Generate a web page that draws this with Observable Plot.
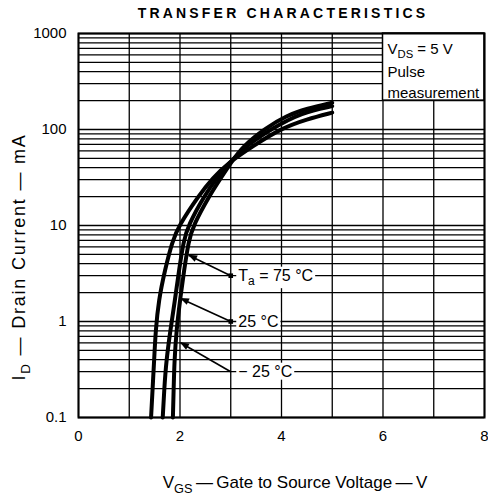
<!DOCTYPE html>
<html><head><meta charset="utf-8">
<script src="https://cdn.jsdelivr.net/npm/d3@7"></script>
<script src="https://cdn.jsdelivr.net/npm/@observablehq/plot@0.6"></script>
<style>
body{margin:0;background:#fff;}
#chart{width:488px;height:497px;}
</style></head><body><div id="chart"></div>
<script>
const FONT = '"Liberation Sans", Arial, Helvetica, sans-serif';

// Curves: VGS (V) and ID (mA)
const vgsT75 = [1.43, 1.46, 1.49, 1.52, 1.58, 1.70, 1.85, 1.98, 2.37, 2.64, 2.95, 3.45, 4.0, 4.5, 5.0];
const idT75  = [0.1, 0.2, 0.39, 0.81, 1.66, 3.4, 6.9, 10, 20.5, 31, 45, 68, 103, 128, 150];
const vgsT25 = [1.66, 1.69, 1.73, 1.81, 1.9, 1.98, 2.07, 2.16, 2.48, 2.72, 2.97, 3.31, 3.82, 4.4, 5.0];
const idT25  = [0.1, 0.2, 0.39, 0.81, 1.66, 3.4, 6.9, 10, 20.5, 31, 45, 68, 103, 150, 175];
const vgsTm25 = [1.86, 1.875, 1.89, 1.93, 2.0, 2.08, 2.17, 2.26, 2.58, 2.8, 3.0, 3.25, 3.68, 4.1, 4.5, 5.0];
const idTm25  = [0.1, 0.2, 0.39, 0.81, 1.66, 3.4, 6.9, 10, 20.5, 31, 45, 68, 103, 140, 165, 190];

// Axes
const xTicks = [0, 2, 4, 6, 8];
const xTickLabels = ["0", "2", "4", "6", "8"];
const yTicks = [0.1, 1, 10, 100, 1000];
const yTickLabels = ["0.1", "1", "10", "100", "1000"];
const xGrid = [0, 1, 2, 3, 4, 5, 6, 7, 8];
const decades = [0.1, 1, 10, 100];
const mantissas = [1, 2, 3, 4, 5, 6, 7, 8, 9];

// Annotations
const annLabels = ["75", "25", "-25"];
const annX = [3, 3, 3];
const annY = [3, 1, 0.3];
const annTipX = [2.17, 2.01, 2.01];
const annTipY = [4.9, 1.74, 0.6];
const annMarker = [true, true, false];

// Condition box (VGS 6–8, ID 200–1000)
const boxX = [6, 8];
const boxY = [200, 1000];

const curveRows = [
  ...vgsT75.map((v, i) => ({t: "75", vgs: v, id: idT75[i]})),
  ...vgsT25.map((v, i) => ({t: "25", vgs: v, id: idT25[i]})),
  ...vgsTm25.map((v, i) => ({t: "-25", vgs: v, id: idTm25[i]}))
];
const yGrid = decades.flatMap(d => mantissas.map(m => +(d * m).toPrecision(3))).concat([1000]);
const annRows = annLabels.map((l, i) => ({l, x: annX[i], y: annY[i], tx: annTipX[i], ty: annTipY[i], m: annMarker[i]}));

const plot = Plot.plot({
  width: 488, height: 497,
  marginTop: 33, marginBottom: 80, marginLeft: 78, marginRight: 4,
  style: {fontFamily: FONT, fontSize: "15px", color: "#000", background: "#fff"},
  x: {domain: [0, 8]},
  y: {type: "log", domain: [0.1, 1000]},
  marks: [
    Plot.ruleX(xGrid, {stroke: "#000", strokeWidth: 1.3}),
    Plot.ruleY(yGrid, {stroke: "#000", strokeWidth: 1.3}),
    Plot.line(curveRows, {x: "vgs", y: "id", z: "t", stroke: "#000", strokeWidth: 4, curve: "basis"}),
    Plot.rect([{x1: boxX[0], x2: boxX[1], y1: boxY[0], y2: boxY[1]}], {x1: "x1", x2: "x2", y1: "y1", y2: "y2", fill: "#fff", stroke: "#000", strokeWidth: 1.5}),
    Plot.link(annRows, {x1: "x", y1: "y", x2: "tx", y2: "ty", stroke: "#000", strokeWidth: 1.6}),
    Plot.dot(annRows.filter(d => d.m), {x: "x", y: "y", symbol: "square", r: 2.6, fill: "#000"}),
    Plot.axisX({ticks: xTicks, tickFormat: d => xTickLabels[xTicks.indexOf(d)], tickSize: 0, tickPadding: 13, label: null, fontSize: 15}),
    Plot.axisY({ticks: yTicks, tickFormat: d => yTickLabels[yTicks.indexOf(d)], tickSize: 0, tickPadding: 12, label: null, fontSize: 15}),
    Plot.frame({stroke: "#000", strokeWidth: 2})
  ]
});
document.getElementById("chart").append(plot);

const svg = d3.select(plot);
const xs = plot.scale("x"), ys = plot.scale("y");

function rich(g, x, y, parts, size, anchor, extra) {
  const t = g.append("text").attr("x", x).attr("y", y)
    .attr("font-family", FONT).attr("font-size", size)
    .attr("text-anchor", anchor || "start").attr("fill", "#000");
  if (extra) extra(t);
  let shift = 0;
  parts.forEach(([s, sub]) => {
    const ts = t.append("tspan").text(s);
    const target = sub ? size * 0.28 : 0;
    if (target !== shift) { ts.attr("dy", target - shift); shift = target; }
    if (sub) ts.attr("font-size", size * 0.75);
  });
  return t;
}

const g = svg.append("g");

// Filled arrowheads at the curve ends of the pointer lines
annRows.forEach(d => {
  const x0 = xs.apply(d.x), y0 = ys.apply(d.y);
  const x1 = xs.apply(d.tx), y1 = ys.apply(d.ty);
  const a = Math.atan2(y1 - y0, x1 - x0);
  const L = 9, W = 3.5;
  const bxp = x1 - L * Math.cos(a), byp = y1 - L * Math.sin(a);
  const pts = [[x1, y1], [bxp + W * Math.sin(a), byp - W * Math.cos(a)], [bxp - W * Math.sin(a), byp + W * Math.cos(a)]];
  g.append("polygon").attr("points", pts.map(p => p.join(",")).join(" ")).attr("fill", "#000");
});

// Title
rich(g, 283, 18, [["TRANSFER CHARACTERISTICS", false]], 14, "middle", t => t.attr("font-weight", "bold").attr("letter-spacing", "3.2px"));

// Temperature labels with white backgrounds
const tempParts = {
  "75": [["T", false], ["a", true], [" = 75 °C", false]],
  "25": [["25 °C", false]],
  "-25": [["− 25 °C", false]]
};
annRows.forEach(d => {
  const px = xs.apply(d.x) + 8, py = ys.apply(d.y) + 5.5;
  const t = rich(g, px, py, tempParts[d.l], 16, "start");
  const b = t.node().getBBox();
  g.insert("rect", () => t.node()).attr("x", b.x - 2).attr("y", b.y).attr("width", b.width + 4).attr("height", b.height).attr("fill", "#fff");
});

// Condition box text
const bx = xs.apply(boxX[0]) + 5;
rich(g, bx, 54, [["V", false], ["DS", true], [" = 5 V", false]], 15, "start");
rich(g, bx, 77, [["Pulse", false]], 15, "start");
rich(g, bx, 98, [["measurement", false]], 15, "start");

// Axis titles
rich(g, 295, 488, [["V", false], ["GS", true], ["\u2009—\u2009Gate to Source Voltage\u2009—\u2009V", false]], 17, "middle");
rich(g, 0, 0, [["I", false], ["D", true], [" — Drain Current — mA", false]], 18, "middle",
  t => t.attr("transform", "translate(25,257) rotate(-90)").attr("letter-spacing", "1.8px"));
</script></body></html>
